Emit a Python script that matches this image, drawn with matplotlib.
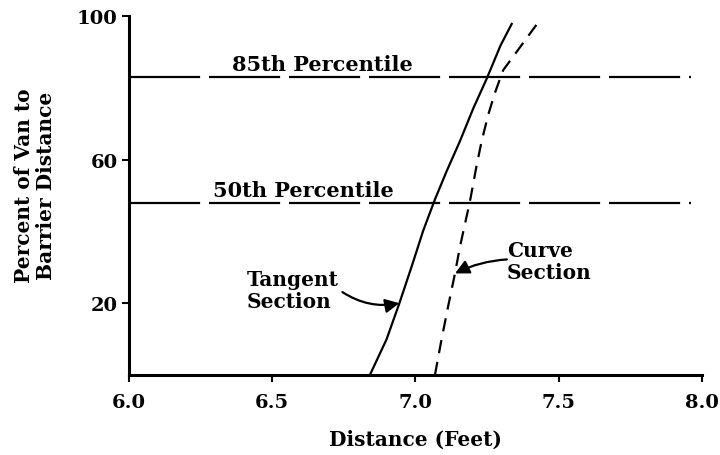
import numpy as np
import matplotlib
matplotlib.use("Agg")
import matplotlib.pyplot as plt

# values
tangent_x = [6.841, 6.899, 6.944, 6.990, 7.027, 7.068, 7.109, 7.155, 7.202, 7.249, 7.297, 7.336]
tangent_y = [0.0, 9.9, 20.0, 31.0, 40.2, 48.9, 56.8, 65.1, 74.3, 82.6, 91.8, 97.8]

curve_x = [7.068, 7.091, 7.114, 7.138, 7.155, 7.190, 7.214, 7.231, 7.254, 7.277, 7.306, 7.353, 7.429]
curve_y = [0.0, 9.9, 19.1, 28.3, 35.6, 48.3, 58.6, 65.1, 72.5, 78.5, 84.9, 90.0, 98.3]

pct_labels = ["85th Percentile", "50th Percentile"]
pct_values = [83.0, 48.0]
line_span = [6.0, 7.96]

xticks = [6.0, 6.5, 7.0, 7.5, 8.0]
yticks = [20, 60, 100]

plt.rcParams.update({
    "font.family": "DejaVu Serif",
    "font.weight": "bold",
    "axes.labelweight": "bold",
    "font.size": 14,
})

fig = plt.figure(figsize=(7.2, 4.56), dpi=100)
ax = fig.add_axes([0.179, 0.1754, 0.796, 0.7873])

ax.plot(tangent_x, tangent_y, color="black", lw=1.6)
ax.plot(curve_x, curve_y, color="black", lw=1.6, dashes=(6, 4))

# percentile reference lines with their labels
label_x = [6.36, 6.293]
for lbl, val, lx in zip(pct_labels, pct_values, label_x):
    ax.plot(line_span, [val, val], color="black", lw=1.6, dashes=(32, 4))
    ax.text(lx, val + 2.0, lbl, ha="left", va="baseline", fontsize=15)

# annotations
arrow = dict(arrowstyle="-|>,head_length=0.6,head_width=0.3", color="black",
             lw=1.6, mutation_scale=14, shrinkA=0, shrinkB=0)

ax.text(6.412, 23.7, "Tangent\nSection", ha="left", va="center",
        linespacing=1.1, fontsize=14.5)
tip_y = 20.0
tip_x = np.interp(tip_y, tangent_y, tangent_x)
ax.annotate("", xy=(tip_x, tip_y), xytext=(6.745, 23.1),
            arrowprops=dict(arrow, connectionstyle="arc3,rad=0.2"))

ax.text(7.319, 31.8, "Curve\nSection", ha="left", va="center",
        linespacing=1.1, fontsize=14.5)
tip_y = 28.3
tip_x = np.interp(tip_y, curve_y, curve_x)
ax.annotate("", xy=(tip_x, tip_y), xytext=(7.319, 32.2),
            arrowprops=dict(arrow, connectionstyle="arc3,rad=0.1"))

ax.set_xlim(6.0, 8.0)
ax.set_ylim(0, 100)
ax.set_xticks(xticks)
ax.set_xticklabels([f"{t:.1f}" for t in xticks])
ax.set_yticks(yticks)
ax.set_yticklabels([str(t) for t in yticks])

for side in ["top", "right"]:
    ax.spines[side].set_visible(False)
for side in ["left", "bottom"]:
    ax.spines[side].set_linewidth(2.2)

ax.tick_params(axis="y", direction="out", length=5, width=1.5, pad=3)
ax.tick_params(axis="x", direction="out", length=5, width=1.5, pad=8)

ax.set_xlabel("Distance (Feet)", fontsize=14.5)
ax.xaxis.set_label_coords(0.5, -0.15)
ax.xaxis.label.set_va("top")
ax.set_ylabel("Percent of Van to\nBarrier Distance", fontsize=14.5, linespacing=1.15)
ax.yaxis.set_label_coords(-0.127, 0.529)

fig.savefig("out.png", dpi=100)
